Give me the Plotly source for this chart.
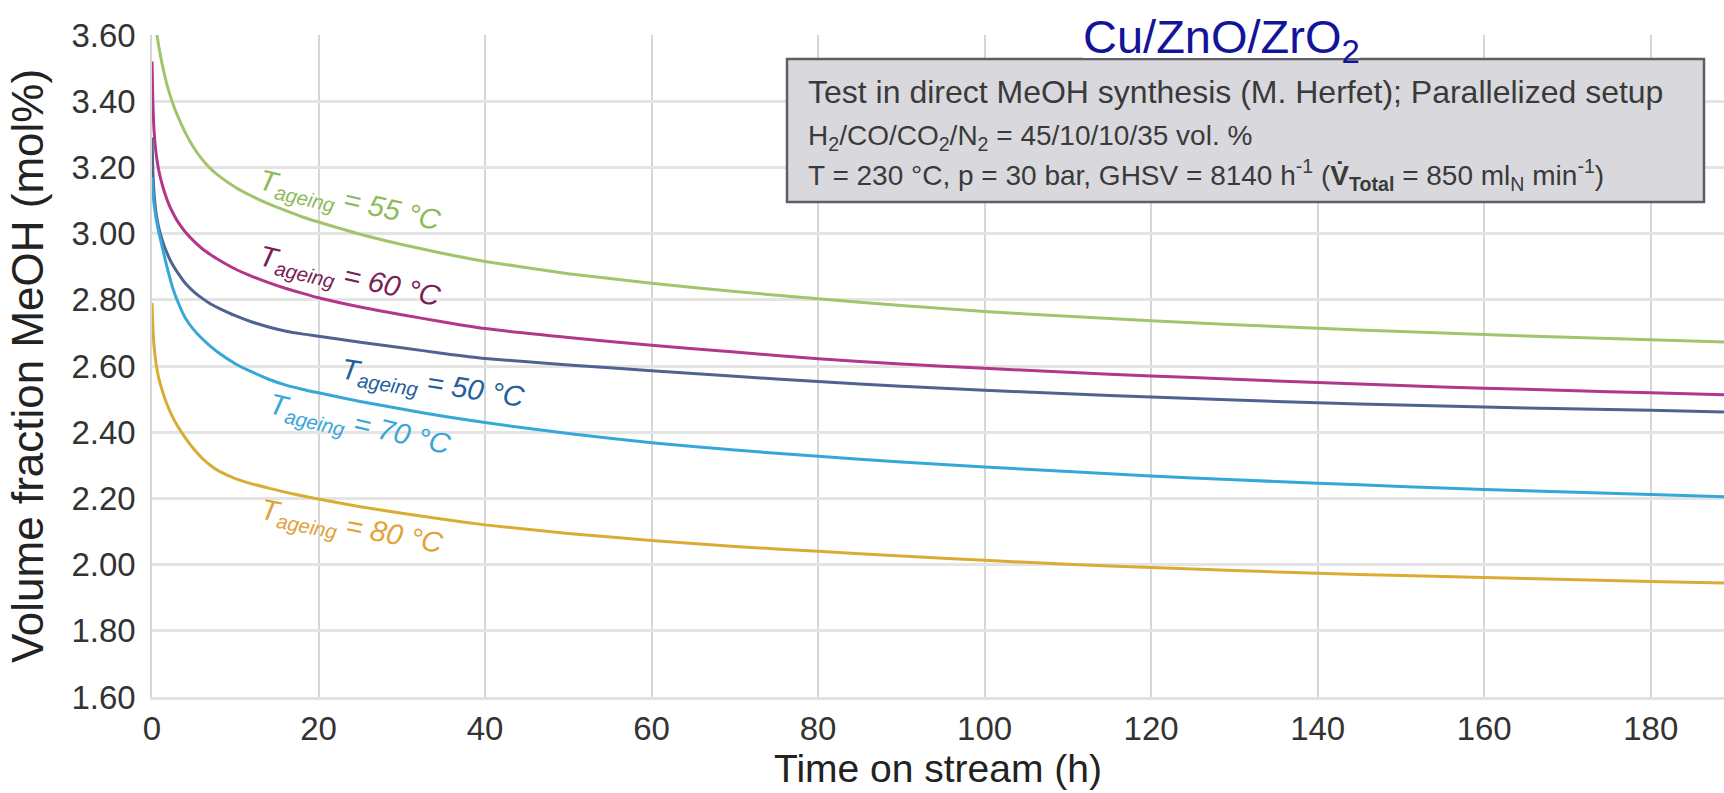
import plotly.graph_objects as go

# ---------------- data ----------------
t_55 = [0.6, 0.75, 1, 1.5, 2, 2.5, 3, 4, 5, 6, 7, 8, 10, 12, 14, 16, 18, 20, 25, 30, 35, 40, 50, 60, 70, 80, 90, 100, 110, 120, 130, 140, 150, 160, 170, 180, 189]
v_55 = [3.60, 3.575, 3.54, 3.48, 3.432, 3.393, 3.36, 3.305, 3.26, 3.225, 3.197, 3.175, 3.14, 3.113, 3.09, 3.07, 3.051, 3.035, 2.998, 2.967, 2.94, 2.916, 2.879, 2.85, 2.825, 2.803, 2.783, 2.765, 2.75, 2.737, 2.725, 2.714, 2.704, 2.695, 2.687, 2.679, 2.672]

t_60 = [0, 0.1, 0.25, 0.5, 0.75, 1, 1.5, 2, 2.5, 3, 4, 5, 6, 7, 8, 10, 12, 14, 16, 18, 20, 25, 30, 35, 40, 50, 60, 70, 80, 90, 100, 110, 120, 130, 140, 150, 160, 170, 180, 189]
v_60 = [3.52, 3.40, 3.31, 3.24, 3.20, 3.17, 3.125, 3.09, 3.063, 3.04, 3.005, 2.978, 2.955, 2.937, 2.921, 2.893, 2.871, 2.852, 2.835, 2.82, 2.806, 2.778, 2.755, 2.733, 2.713, 2.686, 2.663, 2.642, 2.622, 2.606, 2.593, 2.581, 2.57, 2.56, 2.55, 2.541, 2.533, 2.526, 2.519, 2.513]

t_50 = [0, 0.1, 0.25, 0.5, 0.75, 1, 1.5, 2, 2.5, 3, 4, 5, 6, 7, 8, 10, 12, 14, 16, 18, 20, 25, 30, 35, 40, 50, 60, 70, 80, 90, 100, 110, 120, 130, 140, 150, 160, 170, 180, 189]
v_50 = [3.29, 3.19, 3.12, 3.06, 3.025, 3.00, 2.96, 2.93, 2.905, 2.885, 2.85, 2.825, 2.805, 2.788, 2.775, 2.752, 2.733, 2.718, 2.706, 2.697, 2.69, 2.672, 2.655, 2.638, 2.623, 2.603, 2.586, 2.569, 2.553, 2.539, 2.527, 2.516, 2.506, 2.497, 2.489, 2.482, 2.476, 2.471, 2.466, 2.461]

t_70 = [0, 0.1, 0.25, 0.5, 0.75, 1, 1.5, 2, 2.5, 3, 4, 5, 6, 7, 8, 10, 12, 14, 16, 18, 20, 25, 30, 35, 40, 50, 60, 70, 80, 90, 100, 110, 120, 130, 140, 150, 160, 170, 180, 189]
v_70 = [3.17, 3.13, 3.09, 3.045, 3.012, 2.984, 2.93, 2.88, 2.835, 2.80, 2.745, 2.71, 2.683, 2.66, 2.64, 2.607, 2.582, 2.56, 2.543, 2.53, 2.519, 2.493, 2.47, 2.448, 2.429, 2.396, 2.368, 2.346, 2.327, 2.31, 2.295, 2.281, 2.268, 2.256, 2.246, 2.236, 2.227, 2.219, 2.212, 2.205]

t_80 = [0, 0.1, 0.25, 0.5, 0.75, 1, 1.5, 2, 2.5, 3, 4, 5, 6, 7, 8, 10, 12, 14, 16, 18, 20, 25, 30, 35, 40, 50, 60, 70, 80, 90, 100, 110, 120, 130, 140, 150, 160, 170, 180, 189]
v_80 = [2.79, 2.72, 2.66, 2.605, 2.57, 2.545, 2.505, 2.472, 2.445, 2.422, 2.383, 2.35, 2.322, 2.30, 2.283, 2.26, 2.244, 2.231, 2.219, 2.208, 2.198, 2.175, 2.155, 2.137, 2.12, 2.094, 2.073, 2.055, 2.04, 2.026, 2.013, 2.001, 1.991, 1.982, 1.974, 1.967, 1.961, 1.955, 1.949, 1.944]

series_names = ["55 °C", "60 °C", "50 °C", "70 °C", "80 °C"]
x_ticks = [0, 20, 40, 60, 80, 100, 120, 140, 160, 180]
y_ticks = [1.60, 1.80, 2.00, 2.20, 2.40, 2.60, 2.80, 3.00, 3.20, 3.40, 3.60]
y_ticktext = ["%.2f" % v for v in y_ticks]

line_colors = ["#a2c46c", "#b2378b", "#4f6290", "#36a8d8", "#d9ac34"]
label_colors = ["#8dbb5a", "#7a1e56", "#24609e", "#3aa6d8", "#e0a33a"]
# label anchor (time, value) and tilt
label_pos = [(23.8, 3.095, 13), (23.8, 2.866, 13), (33.8, 2.543, 9), (25.0, 2.42, 13), (24.0, 2.11, 11)]

data = [(t_55, v_55), (t_60, v_60), (t_50, v_50), (t_70, v_70), (t_80, v_80)]

FONT = "Liberation Sans, Arial, sans-serif"

fig = go.Figure()
for (tx, vy), name, col in zip(data, series_names, line_colors):
    fig.add_trace(go.Scatter(x=tx, y=vy, mode="lines", name=name,
                             line=dict(color=col, width=3, shape="spline", smoothing=0.5)))

for name, col, (lx, ly, ang) in zip(series_names, label_colors, label_pos):
    fig.add_annotation(x=lx, y=ly, xref="x", yref="y", showarrow=False,
                       text="<i>T<sub>ageing</sub> = %s</i>" % name,
                       textangle=ang, font=dict(family=FONT, size=29, color=col))

# info box
PW = 1724 - 152
PH = 697 - 35
def px(x):
    return (x - 152) / PW
def py(y):
    return (697 - y) / PH

fig.add_shape(type="rect", xref="paper", yref="paper",
              x0=px(787), x1=px(1704), y0=py(202), y1=py(59),
              fillcolor="#d9d9dd", line=dict(color="#5e5e64", width=2.5), layer="above")
fig.add_shape(type="rect", xref="paper", yref="paper",
              x0=px(1083), x1=px(1360), y0=py(58), y1=py(0),
              fillcolor="white", line=dict(width=0), layer="above")

box_lines = [
    ("Test in direct MeOH synthesis (M. Herfet); Parallelized setup", 32, 92),
    ("H<sub>2</sub>/CO/CO<sub>2</sub>/N<sub>2</sub> = 45/10/10/35 vol. %", 28, 137),
    ("T = 230 °C, p = 30 bar, GHSV = 8140 h<sup>-1</sup> (<b>V̇</b><sub><b>Total</b></sub> = 850 ml<sub>N</sub> min<sup>-1</sup>)", 28, 175),
]
for txt, fs, yy in box_lines:
    fig.add_annotation(x=px(806), y=py(yy), xref="paper", yref="paper", showarrow=False,
                       xanchor="left", yanchor="middle", text=txt,
                       font=dict(family=FONT, size=fs, color="#3a3a3a"))

fig.add_annotation(x=px(1221), y=py(40), xref="paper", yref="paper", showarrow=False,
                   xanchor="center", yanchor="middle", text="Cu/ZnO/ZrO<sub>2</sub>",
                   font=dict(family=FONT, size=47, color="#14149a"))

fig.update_layout(
    width=1724, height=793, autosize=False,
    margin=dict(l=152, r=0, t=35, b=96),
    paper_bgcolor="white", plot_bgcolor="white",
    showlegend=False,
    font=dict(family=FONT, color="#333333"),
)
fig.update_xaxes(range=[0, 188.8], tickvals=x_ticks, showgrid=True, gridcolor="#d6d6d6", gridwidth=1.5,
                 zeroline=False, showline=True, linecolor="#e2e2e2", linewidth=3,
                 ticks="", tickfont=dict(size=33, color="#333333"), ticklabelstandoff=0,
                 title=dict(text="Time on stream (h)", font=dict(size=39, color="#222222"), standoff=10))
fig.update_yaxes(range=[1.6, 3.6], tickvals=y_ticks, ticktext=y_ticktext, showgrid=True,
                 gridcolor="#e4e4e4", gridwidth=2.5, zeroline=False, showline=True,
                 linecolor="#d6d6d6", linewidth=1.5, ticks="",
                 tickfont=dict(size=33, color="#333333"), ticklabelstandoff=8,
                 title=dict(text="Volume fraction MeOH (mol%)", font=dict(size=44, color="#222222"), standoff=14))

fig.write_html("out.html")
